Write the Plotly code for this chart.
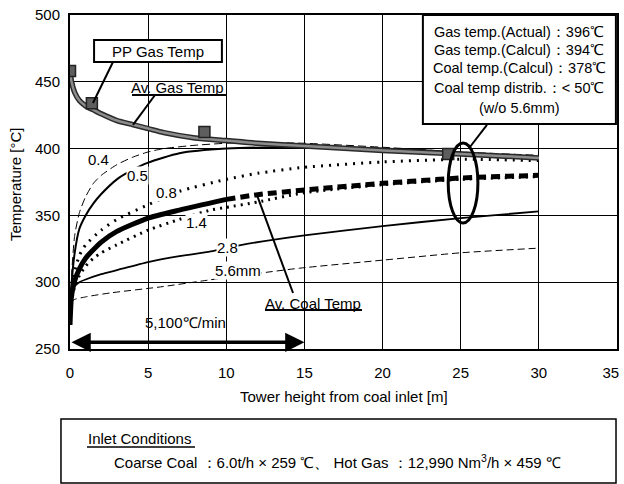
import plotly.graph_objects as go

# ---------------- data ----------------
gas_x = [0, 0.1, 0.3, 0.6, 1, 1.5, 2, 3, 4, 5, 6, 8, 10, 12, 15, 20, 25, 30]
gas_t = [458, 450, 442, 436, 432, 429, 426, 421, 418, 415, 412, 408, 406, 404, 402, 398.5, 396, 393]

pp_x = [0, 1.4, 8.6, 24.2]
pp_t = [458, 434, 412.5, 396]

c04_x = [0, 0.1, 0.3, 0.6, 1, 1.5, 2, 3, 4, 5, 6, 8, 10, 12, 15, 20, 25, 30]
c04_t = [268, 305, 335, 352, 364, 374, 380, 388, 393.5, 397.5, 400, 402.5, 404, 404.5, 404, 401, 397.5, 395]

c05_x = [0, 0.1, 0.3, 0.6, 1, 1.5, 2, 3, 4, 5, 7, 10, 15, 20, 25, 30]
c05_t = [268, 298, 322, 340, 350, 359, 366, 377, 384, 389.5, 396.5, 400, 401, 400, 397, 392]

c08_x = [0, 0.1, 0.3, 0.6, 1, 2, 3, 5, 7, 10, 12, 15, 20, 25, 30]
c08_t = [268, 290, 308, 320, 328, 339, 347, 358, 368, 377, 381.5, 386, 390, 392, 391]

avc_x = [0, 0.1, 0.3, 0.6, 1, 2, 3, 5, 7, 10]
avc_t = [268, 290, 301, 310, 318, 330, 338, 348, 354, 362]
avc2_x = [10, 12, 15, 20, 25, 30]
avc2_t = [362, 365.5, 369, 374, 378, 380]

c14_x = [0, 0.1, 0.3, 0.6, 1, 1.5, 2, 3, 5, 7, 9, 10, 12, 15, 20, 25, 30]
c14_t = [268, 285, 297, 305, 312, 318, 322, 328, 339, 347, 354, 356, 360, 367, 373, 377, 379]

c28_x = [0, 0.1, 0.3, 0.6, 1, 2, 3, 5, 7, 9, 11, 15, 20, 25, 30]
c28_t = [268, 290, 297, 300, 302, 306, 309, 315, 319.5, 323, 328, 335, 342, 348, 353]

c56_x = [0, 0.05, 0.2, 1, 2.6, 5.8, 8.8, 12.3, 14.7, 20, 25, 30]
c56_t = [268, 280, 286.5, 289, 292, 296.5, 301.5, 307, 310.5, 316.5, 322, 325.5]

x_ticks = [0, 5, 10, 15, 20, 25, 30, 35]
y_ticks = [250, 300, 350, 400, 450, 500]

box_lines = ["Gas temp.(Actual)：396℃", "Gas temp.(Calcul)：394℃",
             "Coal temp.(Calcul)：378℃", "Coal temp distrib.：< 50℃", "(w/o 5.6mm)"]
size_labels = ["0.4", "0.5", "0.8", "1.4", "2.8", "5.6mm"]

FONT = "Liberation Sans, Arial, sans-serif"

fig = go.Figure()

def line(x, y, width, dash="solid", color="black"):
    fig.add_trace(go.Scatter(x=x, y=y, mode="lines", showlegend=False, hoverinfo="skip",
                             line=dict(color=color, width=width, dash=dash, shape="spline", smoothing=0.6)))

line(c56_x, c56_t, 1, "7px,4px")
line(c28_x, c28_t, 1.8)
line(c14_x, c14_t, 3, "2px,5px")
line(avc_x, avc_t, 5)
line(avc2_x, avc2_t, 5, "9px,5px")
line(c08_x, c08_t, 3, "2px,6px")
line(c05_x, c05_t, 2)
line(c04_x, c04_t, 1, "8px,4px")
# gas line: dark border with gray core
line(gas_x, gas_t, 5.5, color="#2a2a2a")
line(gas_x, gas_t, 2.5, color="#8c8c8c")

fig.add_trace(go.Scatter(x=pp_x, y=pp_t, mode="markers", showlegend=False, hoverinfo="skip",
                         marker=dict(symbol="square", size=11, color="#5e5e5e",
                                     line=dict(color="#222222", width=1.5))))

shapes = []
annotations = []

def seg(x0, y0, x1, y1, w=2, xref="x", yref="y"):
    shapes.append(dict(type="line", x0=x0, y0=y0, x1=x1, y1=y1, xref=xref, yref=yref,
                       line=dict(color="black", width=w)))

def txt(x, y, s, size=15, xref="x", yref="y", xanchor="center", bg=None, **kw):
    d = dict(x=x, y=y, text=s, xref=xref, yref=yref, showarrow=False, xanchor=xanchor,
             yanchor="middle", font=dict(family=FONT, size=size, color="black"), borderpad=0)
    if bg:
        d["bgcolor"] = bg
    d.update(kw)
    annotations.append(d)

# PP Gas Temp box
shapes.append(dict(type="rect", x0=1.54, x1=9.72, y0=464.8, y1=481.3, xref="x", yref="y",
                   line=dict(color="black", width=2), fillcolor="white"))
txt(5.63, 473, "PP Gas Temp")
seg(2.75, 464.8, 1.47, 434.1)

# Av. Gas Temp
txt(6.9, 446, "Av. Gas Temp")
seg(3.97, 440.1, 9.98, 440.1)
seg(5.44, 440.1, 4.03, 417.7)

# Av. Coal Temp
txt(15.55, 284.4, "Av. Coal Temp")
seg(12.48, 279.2, 18.68, 279.2)
seg(14.27, 291.9, 11.96, 365.3)

# size labels
lab_pos = [(1.8, 391.5), (4.3, 380), (6.2, 367.5), (8.1, 345), (10.05, 326), (10.75, 309)]
for (lx, ly), s in zip(lab_pos, size_labels):
    txt(lx, ly, s, bg="white")

# rate arrow
txt(7.36, 269.5, "5,100℃/min")
annotations.append(dict(x=15, y=255, ax=0, ay=255, xref="x", yref="y", axref="x", ayref="y",
                        text="", showarrow=True, arrowhead=2, arrowside="end+start",
                        arrowwidth=3.5, arrowsize=1.1, arrowcolor="black"))

# ellipse
shapes.append(dict(type="circle", x0=24.2, x1=26.1, y0=344.3, y1=404.2, xref="x", yref="y",
                   line=dict(color="black", width=3)))
seg(26.68, 417.7, 25.59, 401.2)

# right info box
shapes.append(dict(type="rect", x0=22.58, x1=34.93, y0=418.4, y1=500, xref="x", yref="y",
                   line=dict(color="black", width=2), fillcolor="white"))
for yy, s in zip([487.3, 473.8, 460.3, 445.4, 430.4], box_lines):
    txt(28.75, yy, s, size=14.5)

# bottom inlet box (paper coords)
shapes.append(dict(type="rect", x0=-0.0165, x1=0.9982, y0=-0.4012, y1=-0.2096,
                   xref="paper", yref="paper", line=dict(color="black", width=1.5)))
txt(0.0311, -0.2665, "Inlet Conditions", size=15, xref="paper", yref="paper", xanchor="left")
seg(0.0311, -0.2934, 0.2285, -0.2934, w=1.5, xref="paper", yref="paper")
txt(0.0786, -0.3383,
    "Coarse Coal ：6.0t/h × 259 ℃、 Hot Gas ：12,990 Nm<sup>3</sup>/h × 459 ℃",
    size=15, xref="paper", yref="paper", xanchor="left")

# axis titles
txt(0.5, -0.1437, "Tower height from coal inlet [m]", size=15, xref="paper", yref="paper")
txt(-0.1005, 0.494, "Temperature [°C]", size=15, xref="paper", yref="paper", textangle=-90)

x_text = [str(v) for v in x_ticks]
x_text[-1] = "35&nbsp;&nbsp;&nbsp;"

fig.update_layout(
    template="none",
    width=624, height=484,
    margin=dict(l=70, r=7, t=15, b=135, autoexpand=False),
    paper_bgcolor="white", plot_bgcolor="white",
    font=dict(family=FONT, size=15, color="black"),
    shapes=shapes, annotations=annotations,
    showlegend=False,
)
fig.update_xaxes(range=[0, 35], tickmode="array", tickvals=x_ticks, ticktext=x_text,
                 showgrid=True, gridcolor="rgb(0,0,0)", gridwidth=1.2, zeroline=False,
                 showline=True, linecolor="black", linewidth=2, mirror=True, automargin=False,
                 ticks="outside", ticklen=9, tickcolor="white", tickfont=dict(size=15),
                 ticklabeloverflow="allow")
fig.update_yaxes(range=[250, 500], tickmode="array", tickvals=y_ticks,
                 ticktext=[str(v) for v in y_ticks],
                 showgrid=True, gridcolor="rgb(0,0,0)", gridwidth=1.2, zeroline=False,
                 showline=True, linecolor="black", linewidth=2, mirror=True, automargin=False,
                 ticks="outside", ticklen=5, tickcolor="white", tickfont=dict(size=15))

fig.write_html("out.html", config={"displayModeBar": False},
               post_script="document.body.style.margin='0';document.body.style.padding='0';")
